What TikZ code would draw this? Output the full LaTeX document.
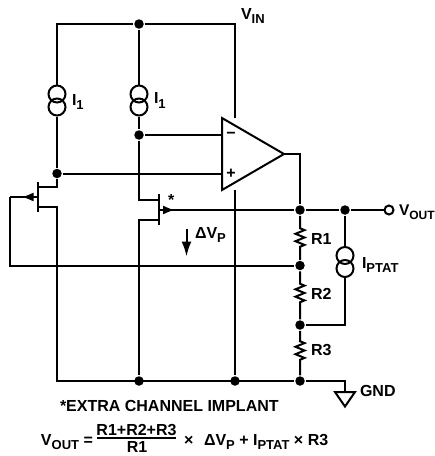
\documentclass[tikz,border=0pt]{standalone}
\usepackage{fontspec}
\setmainfont{Liberation Sans}
\usetikzlibrary{shapes,arrows.meta,positioning,calc,decorations.pathmorphing}
\newcommand{\subtxt}[1]{\raisebox{-4.5pt}{\fontsize{13}{13}\selectfont #1}}

\begin{document}
\begin{tikzpicture}[x=1pt, y=-1pt, line width=2pt,
    dot/.style={circle, fill, inner sep=0pt, minimum size=9.5pt},
    ring/.style={circle, draw, inner sep=0pt, minimum size=17pt},
    port/.style={circle, draw, fill=white, inner sep=0pt, minimum size=9pt},
    lbl/.style={inner sep=0pt, anchor=base west, font=\fontsize{16}{18}\selectfont\bfseries},
    tip/.style={-{Latex[length=12pt, width=9pt]}},
    bigtip/.style={-{Latex[length=15pt, width=10pt]}},
    resistor/.style args={#1 and #2}{decorate, decoration={zigzag, segment length=7.4pt, amplitude=4.5pt, pre length=#1, post length=#2}}]
    \useasboundingbox (0,0) rectangle (435,456);

    \coordinate (railtl) at (57,24);
    \coordinate (railtr) at (235,24);
    \coordinate (railbl) at (57,381);
    \coordinate (gatel) at (9.5,197);
    \coordinate (gatelow) at (9.5,265.5);
    \coordinate (amptop) at (222,118);
    \coordinate (ampbot) at (222,190);
    \coordinate (ampout) at (284,154);
    \coordinate (outcorner) at (300,154);
    \coordinate (ptatcorner) at (345,325);
    \coordinate (gndcorner) at (345,381);
    \coordinate (gndtop) at (345,392);
    \coordinate (gndl) at (335,392);
    \coordinate (gndr) at (355,392);
    \coordinate (gndtip) at (345,406.5);

    \node (toptwo) [dot] at (139,24) {};
    \node (minus) [dot] at (139,135) {};
    \node (plus) [dot] at (57,173.5) {};
    \node (outa) [dot] at (300,210) {};
    \node (outb) [dot] at (345,210) {};
    \node (fbk) [dot] at (300,265.5) {};
    \node (mid) [dot] at (300,325) {};
    \node (gnda) [dot] at (139,381) {};
    \node (gndb) [dot] at (235,381) {};
    \node (gndc) [dot] at (300,381) {};
    \node (vout) [port] at (389,210) {};

    \node (srcaa) [ring] at (57,94) {};
    \node (srcab) [ring] at (57,107) {};
    \node (srcba) [ring] at (139,94) {};
    \node (srcbb) [ring] at (139,107) {};
    \node (ptata) [ring] at (345,255.5) {};
    \node (ptatb) [ring] at (345,268.5) {};

    % supply and current sources
    \draw (srcaa) -- (railtl) -- (toptwo) -- (railtr) -- (235,118);
    \draw (toptwo) -- (srcba);
    \draw (srcab) -- (plus);
    \draw (srcbb) -- (minus);

    % left fet
    \coordinate (fetla) at (38,181.5);
    \coordinate (fetlb) at (38,212);
    \coordinate (fetld) at (57,187);
    \coordinate (fetls) at (57,206.5);
    \draw (fetla) -- (fetlb);
    \draw (plus) -- (fetld) -- (38,187);
    \draw (38,206.5) -- (fetls) -- (railbl) -- (gndc);
    \draw [tip] (38,197) -- (21.5,197);
    \draw (gatel) -- (25,197);
    \draw (gatel) -- (gatelow) -- (fbk);

    % right fet
    \coordinate (fetra) at (158.5,194);
    \coordinate (fetrb) at (158.5,225);
    \coordinate (fetrd) at (139,199.5);
    \coordinate (fetrs) at (139,219.5);
    \draw (fetra) -- (fetrb);
    \draw (minus) -- (fetrd) -- (158.5,199.5);
    \draw (158.5,219.5) -- (fetrs) -- (gnda);
    \draw [tip] (158.5,210) -- (175,210);
    \draw (172,210) -- (outa) -- (outb) -- (vout);

    % amplifier
    \draw (235,190) -- (gndb);
    \draw (minus) -- (222,135);
    \draw (plus) -- (222,173.5);
    \draw (ampout) -- (outcorner) -- (outa);
    \draw [fill=white] (amptop) -- (ampout) -- (ampbot) -- cycle;
    \node (inminus) [lbl, anchor=center] at (231,135) {\textminus};
    \node (inplus) [lbl, anchor=center] at (231,173.5) {+};

    % divider
    \draw [resistor=12.5pt and 12pt] (outa) -- (fbk);
    \draw [resistor=12.5pt and 14.5pt] (fbk) -- (mid);
    \draw [resistor=10.5pt and 13.5pt] (mid) -- (gndc);
    \draw (outb) -- (ptata);
    \draw (ptatb) -- (ptatcorner) -- (mid);

    % ground
    \draw (gndc) -- (gndcorner) -- (gndtop);
    \draw (gndl) -- (gndr) -- (gndtip) -- cycle;

    \draw [bigtip] (186.5,229) -- (186.5,256.5);

    \node (vinlbl) [lbl] at (240,19) {V\subtxt{IN}};
    \node (ionelbl) [lbl] at (71,105) {I\subtxt{1}};
    \node (itwolbl) [lbl] at (153,103.5) {I\subtxt{1}};
    \node (star) [lbl] at (167,205) {*};
    \node (deltalbl) [lbl] at (194,238) {ΔV\subtxt{P}};
    \node (voutlbl) [lbl, font=\fontsize{15.5}{18}\selectfont\bfseries] at (398,215) {V\raisebox{-4.5pt}{\fontsize{12}{12}\selectfont OUT}};
    \node (ptatlbl) [lbl] at (361,268) {I\subtxt{PTAT}};
    \node (ronelbl) [lbl] at (310,244) {R1};
    \node (rtwolbl) [lbl] at (310,299) {R2};
    \node (rthreelbl) [lbl] at (310,355.5) {R3};
    \node (gndlbl) [lbl] at (359,396.5) {GND};
    \node (implant) [lbl] at (59,411.5) {*EXTRA CHANNEL IMPLANT};

    % formula
    \node (voutpart) [lbl] at (40,445) {V\subtxt{OUT} =};
    \node (numer) [lbl, anchor=base] at (136.5,435.5) {R1+R2+R3};
    \coordinate (fracl) at (97,438);
    \coordinate (fracr) at (176,438);
    \draw (fracl) -- (fracr);
    \node (denom) [lbl, anchor=base] at (137,452.5) {R1};
    \node (timespart) [lbl] at (183,445) {×};
    \node (rest) [lbl] at (203,445) {ΔV\subtxt{P} + I\subtxt{PTAT} × R3};
\end{tikzpicture}
\end{document}
